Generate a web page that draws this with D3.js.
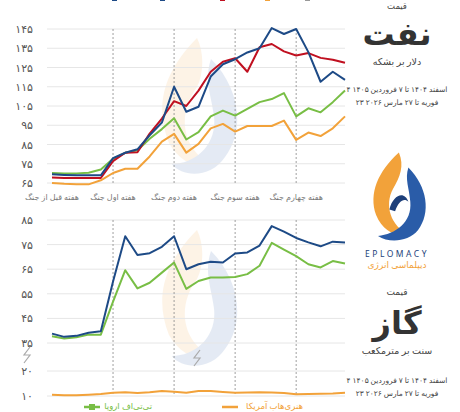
<!DOCTYPE html>
<html><head><meta charset="utf-8">
<script src="https://cdn.jsdelivr.net/npm/d3@7"></script>
<style>
body{margin:0;background:#fff;font-family:"Noto Sans","DejaVu Sans",sans-serif;}
</style></head>
<body><svg id="chart" width="460" height="412"></svg>
<script>
// oil, $/barrel — 25 trading days
const oilBlue   = [69.5,69.2,69,69,69,77.9,80.7,82.5,89.8,96.4,115,102,104.6,120.3,126.7,129.3,132.8,135,145.5,142.4,145,133,117.6,122.8,118.6];
const oilRed    = [67.8,67.6,67.6,67.6,67.6,76.4,80.7,81,90.7,98.5,107.5,105,113,122.8,128,129.8,122.8,135.5,137.2,133.4,131.2,132.5,130,129,127.5];
const oilGreen  = [70.2,70,70,70.3,72,77.6,80.7,82,88,93,98.6,87.6,91.4,99.6,102.6,100,103.5,107,108.6,111.7,99.6,103.8,101.7,107,113.1];
const oilOrange = [65,64.6,64.4,64.3,66.4,70.2,72.4,72.4,78.8,86.5,90.5,80.8,85.3,93.4,95.7,91.7,94.6,94.6,94.6,97.4,87.4,91.2,89.4,93.4,99.6];
// gas, cents per cubic metre
const gasBlue   = [38.8,37.5,37.9,39.2,39.8,60,78.4,70.8,71.5,74.1,78.4,65,67,68,67.7,71.4,71.8,74.6,82.5,80.3,77.7,75.9,74.3,76.2,75.9];
const gasGreen  = [37.7,36.8,37.3,38.4,38.4,51.8,64.6,57.2,59.5,63.6,67.7,57,60.2,61.6,61.6,61.8,63,66.4,75.7,73,70.3,67,65.7,68.3,67.3];
const gasOrange = [10.5,10.3,10.3,10.5,10.8,11.3,11.5,11.2,11.5,12,11.7,11.3,12,12,11.6,11.3,11.4,11.5,11.4,11.2,10.7,10.8,10.9,11,11.3];

const oilTicks = [65,75,85,95,105,115,125,135,145];
const gasTicks = [10,20,35,45,55,65,75,85];
const weekLabels = ["هفته قبل از جنگ","هفته اول جنگ","هفته دوم جنگ","هفته سوم جنگ","هفته چهارم جنگ"];
const weekIdx = [0,5,10,15,20];
const legendLabels = ["تی‌تی‌اف اروپا","هنری‌هاب آمریکا"];

const C = {blue:"#1d4a86", red:"#c01020", green:"#78be45", orange:"#f2a23a"};
const fa = n => String(n).replace(/\d/g, d => "۰۱۲۳۴۵۶۷۸۹"[d]);

const svg = d3.select("#chart");
const x = d3.scaleLinear().domain([0,24]).range([52,345]);
const yOil = d3.scaleLinear().domain([65,145]).range([183,29]);
const yGas = d3.scaleLinear().domain([10,20,35,85]).range([396,371,343,220]);

function watermark(cx, cy, s) {
    const w = svg.append("g").attr("transform", `translate(${cx},${cy}) scale(${s})`).attr("opacity",0.12);
    w.append("path").attr("d","M0,-50 C-25,-25 -30,0 -20,25 C-12,40 5,45 10,40 C-10,30 -15,5 0,-15 C5,-25 5,-40 0,-50Z").attr("fill",C.orange);
    w.append("path").attr("d","M10,-35 C30,-15 35,15 20,35 C10,50 -10,50 -18,40 C0,40 15,25 12,5 C10,-10 5,-20 10,-35Z").attr("fill","#2a5ca8");
}
watermark(197,108,1.4);
watermark(197,300,1.4);

function panel(y, ticks, yTop, yBot, series) {
    const g = svg.append("g");
    g.selectAll("line.grid").data(ticks).join("line")
        .attr("x1",47).attr("x2",345).attr("y1",d=>y(d)).attr("y2",d=>y(d))
        .attr("stroke","#e6e6e6").attr("stroke-width",1);
    g.selectAll("text.tick").data(ticks).join("text")
        .attr("x",33).attr("y",d=>y(d)+4).attr("text-anchor","end")
        .attr("font-size",11).attr("fill","#555").text(d=>fa(d));
    g.selectAll("line.sep").data(weekIdx.slice(1)).join("line")
        .attr("x1",d=>x(d)).attr("x2",d=>x(d)).attr("y1",yTop).attr("y2",yBot)
        .attr("stroke","#888").attr("stroke-width",0.8).attr("stroke-dasharray","2,2");
    const line = d3.line().x((d,i)=>x(i)).y(d=>y(d));
    series.forEach(s => g.append("path").attr("d",line(s.v)).attr("fill","none")
        .attr("stroke",s.c).attr("stroke-width",2).attr("stroke-linejoin","round"));
}

panel(yOil, oilTicks, 29, 183, [
    {v:oilOrange,c:C.orange},{v:oilGreen,c:C.green},{v:oilRed,c:C.red},{v:oilBlue,c:C.blue}]);
svg.selectAll("text.wk").data(weekLabels).join("text")
    .attr("x",(d,i)=>x(weekIdx[i])).attr("y",200).attr("text-anchor","middle")
    .attr("font-size",8).attr("fill","#777").text(d=>d);

panel(yGas, gasTicks, 220, 396, [
    {v:gasOrange,c:C.orange},{v:gasGreen,c:C.green},{v:gasBlue,c:C.blue}]);

// axis break marks
[[27,355],[197,358]].forEach(([bx,by]) => svg.append("path")
    .attr("d",`M${bx+3},${by-8} L${bx-3},${by} L${bx+3},${by} L${bx-3},${by+8}`)
    .attr("fill","none").attr("stroke","#aaa").attr("stroke-width",1.2));

// cut-off legend at the top
[[112,C.blue],[160,C.blue],[220,C.red],[265,C.orange],[305,"#999"]].forEach(([lx,c]) =>
    svg.append("rect").attr("x",lx).attr("y",-2).attr("width",5).attr("height",3).attr("fill",c));

// gas legend
const lg = [{x:84,c:C.green,t:legendLabels[0],tx:152},{x:222,c:C.orange,t:legendLabels[1],tx:303}];
lg.forEach(l => {
    svg.append("line").attr("x1",l.x).attr("x2",l.x+16).attr("y1",407).attr("y2",407)
        .attr("stroke",l.c).attr("stroke-width",2.5);
    if (l.c===C.green) svg.append("rect").attr("x",l.x+5).attr("y",404).attr("width",6).attr("height",6).attr("fill",l.c);
    svg.append("text").attr("x",l.tx).attr("y",409).attr("text-anchor","end")
        .attr("font-size",8.5).attr("fill",l.c).text(l.t);
});

// right column texts
const R = 397;
const rt = (y,t,size,w,col) => svg.append("text").attr("x",R).attr("y",y).attr("text-anchor","middle")
    .attr("font-size",size).attr("font-weight",w||"normal").attr("fill",col||"#444").text(t);
rt(9,"قیمت",8.5);
rt(45,"نفت",32,"bold","#333");
rt(65,"دلار بر بشکه",9.5);
rt(92,"۴ اسفند ۱۴۰۴ تا ۷ فروردین ۱۴۰۵",7.5);
rt(105,"۲۳ فوریه تا ۲۷ مارس ۲۰۲۶",7.5);
rt(295,"قیمت",9);
rt(334,"گاز",32,"bold","#333");
rt(354,"سنت بر مترمکعب",9.5);
rt(383,"۴ اسفند ۱۴۰۴ تا ۷ فروردین ۱۴۰۵",7.5);
rt(396,"۲۳ فوریه تا ۲۷ مارس ۲۰۲۶",7.5);

// logo
const lgG = svg.append("g").attr("transform","translate(397,198) scale(0.95)");
lgG.append("path").attr("d","M2,-48 C-20,-28 -30,-5 -22,18 C-15,35 0,42 12,38 C-6,30 -14,8 -4,-10 C3,-22 8,-34 2,-48Z").attr("fill",C.orange);
lgG.append("path").attr("d","M12,-32 C32,-12 36,16 22,34 C12,46 -8,48 -20,40 C-2,38 16,26 14,4 C13,-10 8,-20 12,-32Z").attr("fill","#2a5ca8");
lgG.append("path").attr("d","M-8,12 C-4,-4 8,-8 12,4 C8,0 2,2 -2,14Z").attr("fill","#1d3f7a");
rt(257,"EPLOMACY",8.5,"normal","#1d3f7a").attr("letter-spacing",2.5);
rt(268,"دیپلماسی انرژی",9,"normal",C.orange);
</script></body></html>
